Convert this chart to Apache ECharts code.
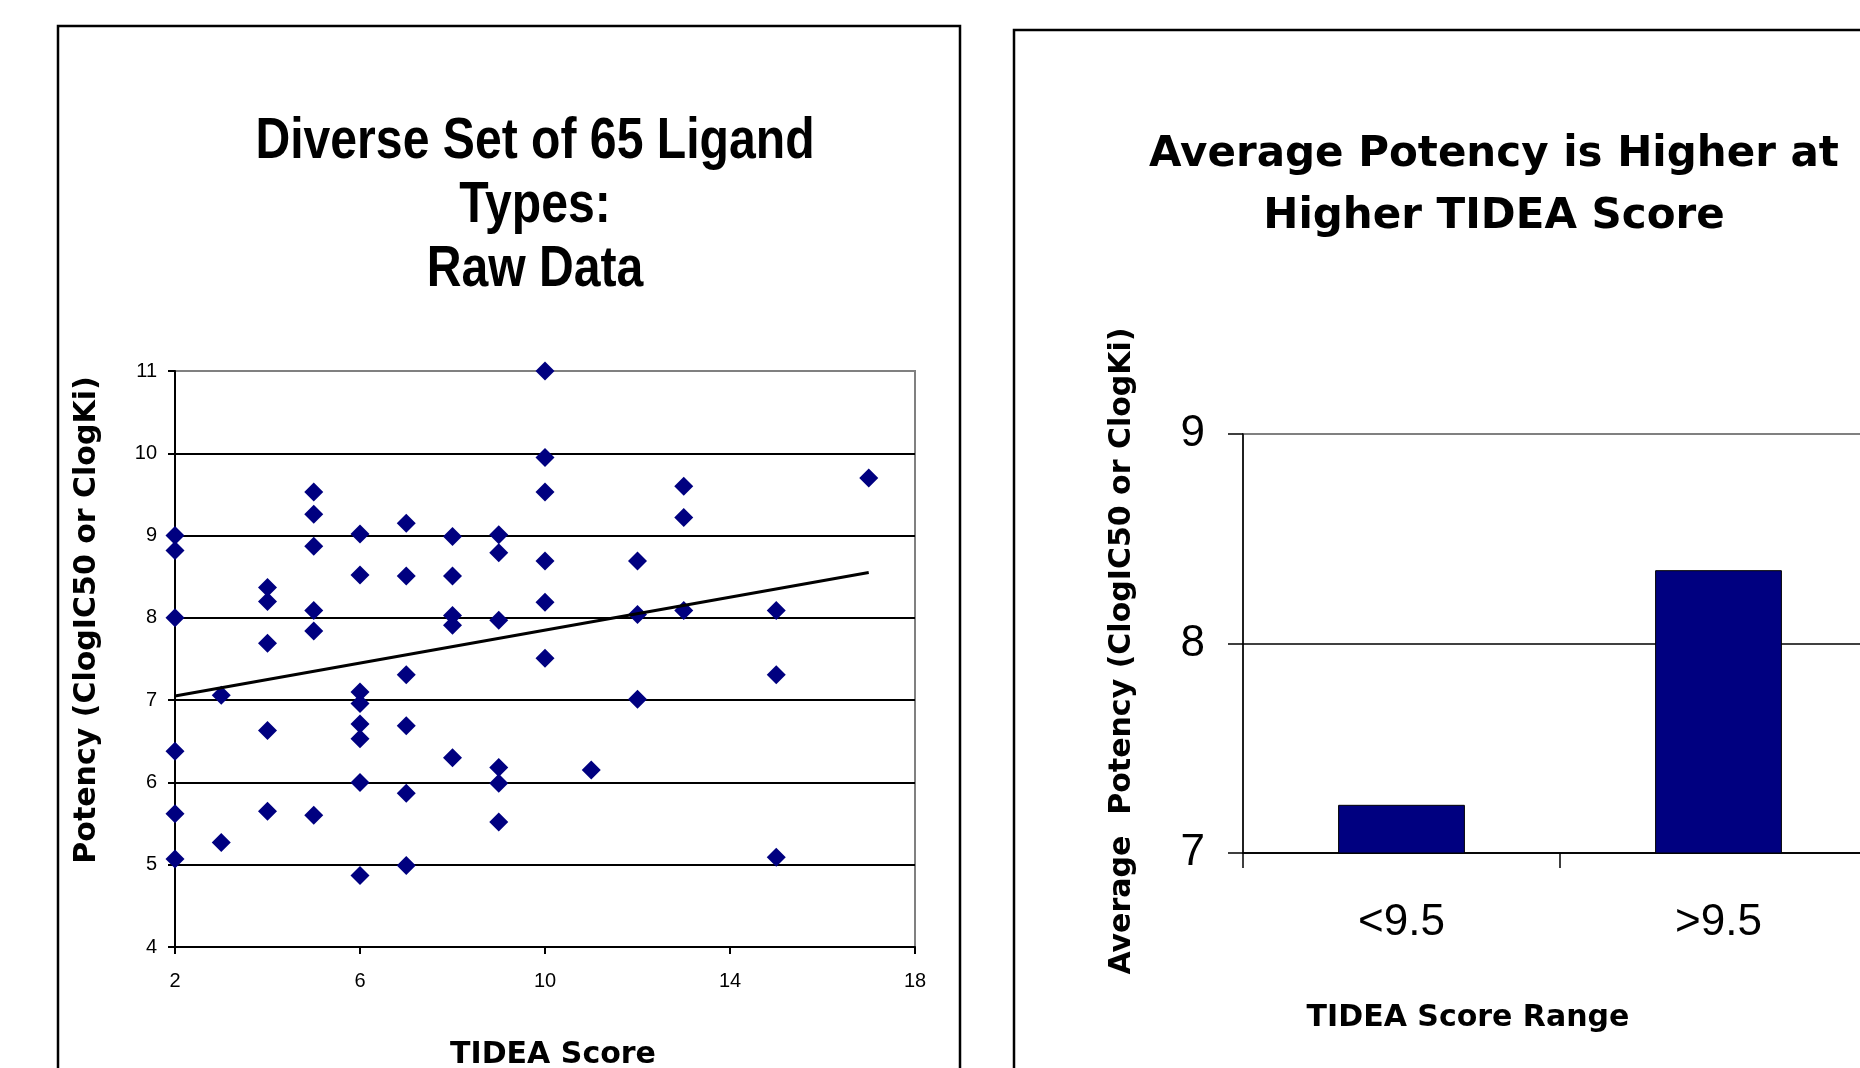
<!DOCTYPE html>
<html>
<head>
<meta charset="utf-8">
<script src="https://cdn.jsdelivr.net/npm/echarts@6/dist/echarts.min.js"></script>
<style>
  html, body { margin: 0; padding: 0; background: #fff; }
  #chart { width: 1860px; height: 1068px; }
</style>
</head>
<body>
<div id="chart"></div>
<script>
// left panel: raw data, TIDEA score vs potency
const scoreX = [2, 2, 2, 2, 2, 2, 3, 3, 4, 4, 4, 4, 4, 5, 5, 5, 5, 5, 5,
  6, 6, 6, 6, 6, 6, 6, 6, 7, 7, 7, 7, 7, 7, 8, 8, 8, 8, 8,
  9, 9, 9, 9, 9, 9, 10, 10, 10, 10, 10, 10, 11, 12, 12, 12,
  13, 13, 13, 15, 15, 15, 17];
const potencyY = [9.0, 8.82, 8.0, 6.38, 5.62, 5.07, 7.06, 5.27, 8.37, 8.2, 7.69, 6.63, 5.65,
  9.53, 9.26, 8.87, 8.09, 7.84, 5.6,
  9.02, 8.52, 7.1, 6.96, 6.71, 6.53, 6.0, 4.87,
  9.15, 8.51, 7.31, 6.69, 5.87, 4.99,
  8.99, 8.51, 8.03, 7.91, 6.3,
  9.01, 8.79, 7.97, 6.18, 5.99, 5.52,
  11.0, 9.95, 9.53, 8.69, 8.19, 7.51,
  6.15, 8.69, 8.04, 7.01,
  9.6, 9.22, 8.09, 8.09, 7.31, 5.09, 9.7];
// trend line end points
const trendX = [2, 17];
const trendY = [7.05, 8.55];

// right panel: average potency by score range
const ranges = ['<9.5', '>9.5'];
const avgPotency = [7.23, 8.35];

const verdana = '"DejaVu Sans", Verdana, sans-serif';
const arial = '"Liberation Sans", Arial, sans-serif';

const chart = echarts.init(document.getElementById('chart'));

chart.setOption({
  backgroundColor: '#fff',
  animation: false,
  graphic: [
    { type: 'rect', shape: { x: 58, y: 26, width: 902, height: 1100 },
      style: { fill: 'none', stroke: '#000', lineWidth: 2.5 } },
    { type: 'rect', shape: { x: 1014, y: 30, width: 900, height: 1100 },
      style: { fill: 'none', stroke: '#000', lineWidth: 2.5 } },
    // no narrow font installed, so squeeze Liberation Sans Bold
    { type: 'text', x: 535, y: 206, scaleX: 0.83,
      style: { text: 'Diverse Set of 65 Ligand\nTypes:\nRaw Data', fontFamily: arial,
        fontWeight: 'bold', fontSize: 58, lineHeight: 64, fill: '#000',
        textAlign: 'center', textVerticalAlign: 'middle' } },
    { type: 'text', x: 1494, y: 186,
      style: { text: 'Average Potency is Higher at\nHigher TIDEA Score', fontFamily: verdana,
        fontWeight: 'bold', fontSize: 42, lineHeight: 62, fill: '#000',
        textAlign: 'center', textVerticalAlign: 'middle' } },
    { type: 'text', x: 553, y: 1055,
      style: { text: 'TIDEA Score', fontFamily: verdana, fontWeight: 'bold', fontSize: 30,
        fill: '#000', textAlign: 'center', textVerticalAlign: 'middle' } },
    { type: 'text', x: 87, y: 620, rotation: Math.PI / 2,
      style: { text: 'Potency (ClogIC50 or ClogKi)', fontFamily: verdana, fontWeight: 'bold',
        fontSize: 30, fill: '#000', textAlign: 'center', textVerticalAlign: 'middle' } },
    { type: 'text', x: 1468, y: 1018,
      style: { text: 'TIDEA Score Range', fontFamily: verdana, fontWeight: 'bold', fontSize: 30,
        fill: '#000', textAlign: 'center', textVerticalAlign: 'middle' } },
    { type: 'text', x: 1122, y: 651, rotation: Math.PI / 2,
      style: { text: 'Average  Potency (ClogIC50 or ClogKi)', fontFamily: verdana, fontWeight: 'bold',
        fontSize: 30, fill: '#000', textAlign: 'center', textVerticalAlign: 'middle' } }
  ],
  grid: [
    { left: 175, top: 371, width: 740, height: 576, show: true, outerBoundsMode: 'none',
      borderColor: '#808080', borderWidth: 2, backgroundColor: 'transparent' },
    { left: 1243, top: 434, width: 634, height: 419, show: true, outerBoundsMode: 'none',
      borderColor: '#808080', borderWidth: 2, backgroundColor: 'transparent' }
  ],
  xAxis: [
    {
      type: 'value', gridIndex: 0, min: 2, max: 18, interval: 4,
      axisLine: { show: true, onZero: false, lineStyle: { color: '#000', width: 2 } },
      axisTick: { show: true, length: 7, lineStyle: { color: '#000', width: 2 } },
      axisLabel: { margin: 24, fontSize: 20, fontFamily: arial, color: '#000' },
      splitLine: { show: false }
    },
    {
      type: 'category', gridIndex: 1, data: ranges,
      axisLine: { show: true, lineStyle: { color: '#000', width: 1.5 } },
      axisTick: { show: true, length: 15, lineStyle: { color: '#000', width: 1.5 } },
      axisLabel: { margin: 48, fontSize: 44, fontFamily: arial, color: '#000' },
      splitLine: { show: false }
    }
  ],
  yAxis: [
    {
      type: 'value', gridIndex: 0, min: 4, max: 11, interval: 1,
      axisLine: { show: true, onZero: false, lineStyle: { color: '#000', width: 2 } },
      axisTick: { show: true, length: 7, lineStyle: { color: '#000', width: 2 } },
      axisLabel: { margin: 18, fontSize: 20, fontFamily: arial, color: '#000' },
      splitLine: { show: true, lineStyle: { width: 2,
        color: ['#000', '#000', '#000', '#000', '#000', '#000', '#000', '#808080'] } }
    },
    {
      type: 'value', gridIndex: 1, min: 7, max: 9, interval: 1,
      axisLine: { show: true, onZero: false, lineStyle: { color: '#000', width: 1.5 } },
      axisTick: { show: true, length: 15, lineStyle: { color: '#000', width: 1.5 } },
      axisLabel: { margin: 38, fontSize: 44, fontFamily: arial, color: '#000' },
      splitLine: { show: true, lineStyle: { width: 1.5, color: ['#000', '#000', '#808080'] } }
    }
  ],
  series: [
    {
      type: 'scatter', xAxisIndex: 0, yAxisIndex: 0,
      symbol: 'diamond', symbolSize: 19,
      itemStyle: { color: '#000080', opacity: 1 },
      data: scoreX.map((x, i) => [x, potencyY[i]]),
      z: 3
    },
    {
      type: 'line', xAxisIndex: 0, yAxisIndex: 0,
      showSymbol: false, symbol: 'none',
      lineStyle: { color: '#000', width: 3 },
      data: trendX.map((x, i) => [x, trendY[i]]),
      z: 4
    },
    {
      type: 'bar', xAxisIndex: 1, yAxisIndex: 1,
      barWidth: '40%',
      itemStyle: { color: '#000080', borderColor: '#000', borderWidth: 1 },
      data: avgPotency
    }
  ]
});
</script>
</body>
</html>
